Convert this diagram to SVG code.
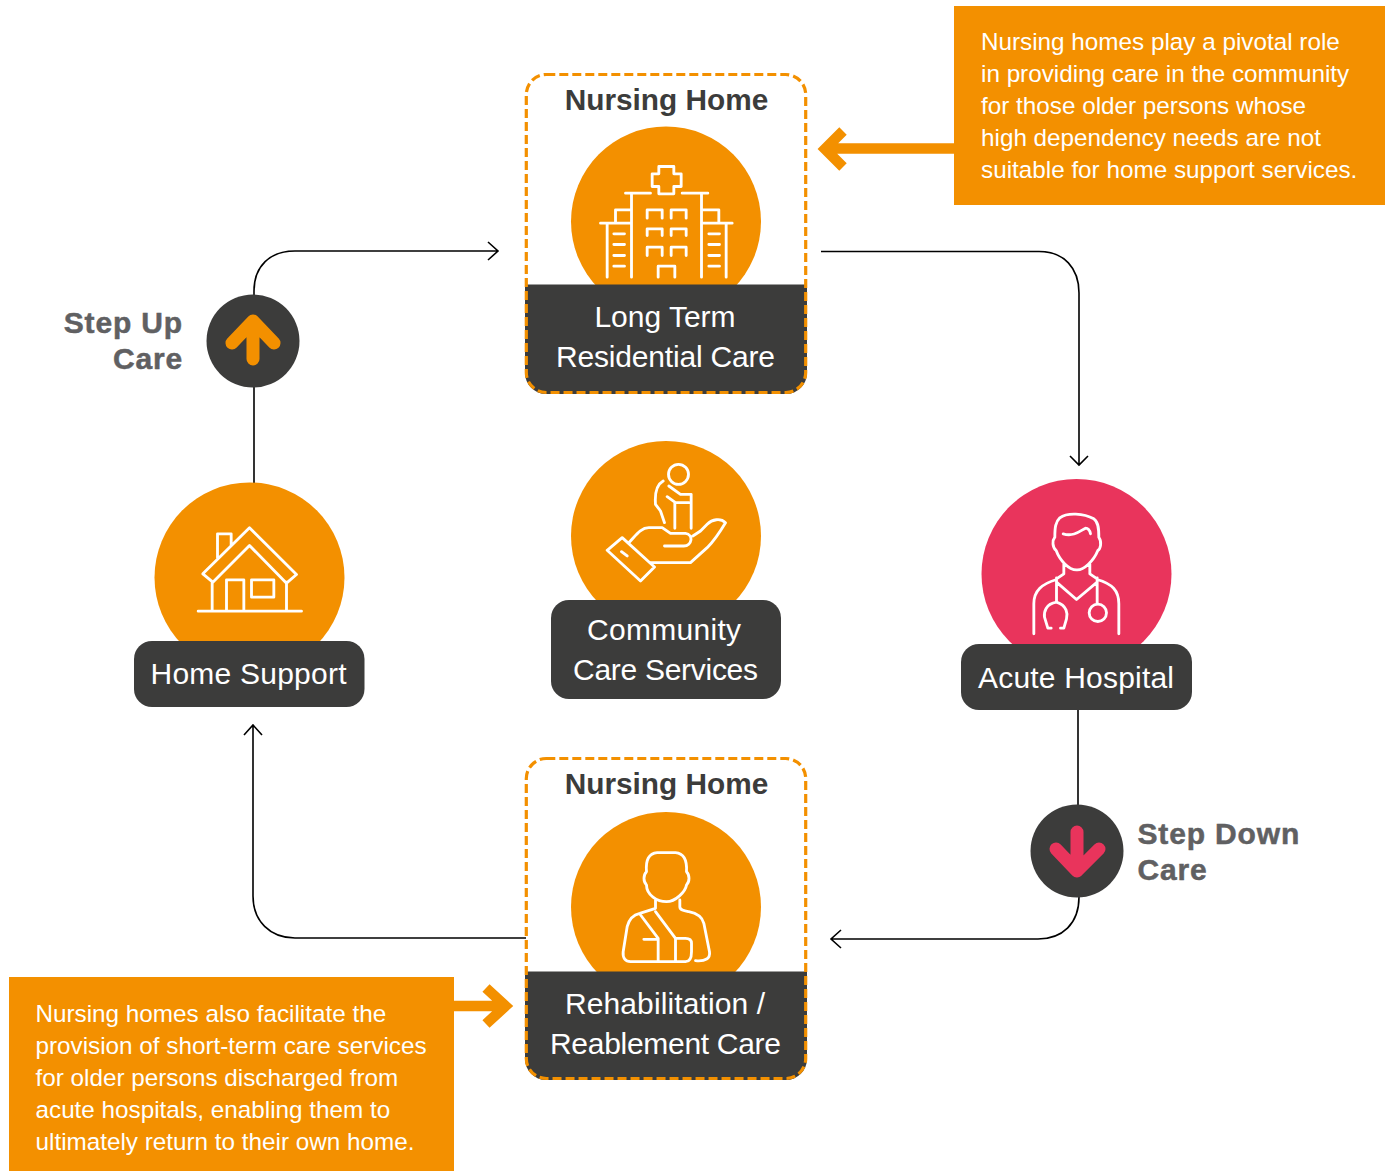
<svg xmlns="http://www.w3.org/2000/svg" width="1391" height="1171" viewBox="0 0 1391 1171">
<style>
text{font-family:"Liberation Sans",Arial,sans-serif}
.t{fill:#fff;font-size:30px;text-anchor:middle}
.h{fill:#3c3c3b;font-size:29.8px;font-weight:700;text-anchor:middle}
.c{fill:#fff;font-size:24.27px}
.s{fill:#606062;stroke:#606062;stroke-width:.5;font-size:30px;font-weight:700;letter-spacing:.85px}
.d{fill:#3c3c3b}
.o{fill:#f39000}
.p{fill:#e9345c}
.i{fill:none;stroke:#fff;stroke-width:8.5;stroke-linecap:round;stroke-linejoin:round}
.l{fill:none;stroke:#000;stroke-width:1.6}
.b{fill:none;stroke:#f39000;stroke-width:10.5}
.x{fill:none;stroke-width:13;stroke-linecap:round;stroke-linejoin:round}
.dash{fill:none;stroke:#f39000;stroke-width:3.2;stroke-dasharray:9 4;stroke-linecap:butt}
</style>
<g id="connectors">
<path class="l" d="M254 296V291C254 266 270 251 295 251H498M488 242L498 251L488 260"/>
<path class="l" d="M254 387V483"/>
<path class="l" d="M821 251.500H1039C1064 251.500 1079 268 1079 293V465M1070 456L1079 465L1088 456"/>
<path class="l" d="M1078 710V805"/>
<path class="l" d="M1079 897C1079 924 1062 939 1038 939H831M841 930L831 939L841 948"/>
<path class="l" d="M526 938H295C270 938 253 921 253 896V725M244 735L253 725L262 735"/>
<path class="b" d="M954 148.500H829M843 131L825 149L843 167"/>
<path class="b" d="M454 1006H503M486 988L505.500 1006L486 1024"/>
</g>
<g id="nursing-home-top">
<circle class="o" cx="666" cy="221.500" r="95"/>
<path class="d" d="M525 284.500H807V373A21 21 0 0 1 786 394H546A21 21 0 0 1 525 373Z"/>
<rect class="dash" x="526.300" y="74.500" width="279.400" height="318" rx="20"/>
<text class="h" x="666.500" y="110">Nursing Home</text>
<g transform="translate(520.500 60.500) scale(.33333)"><path class="i" d="M415 318H460V340H482V378H460V400H415V378H395V340H415ZM315 398H390M485 398H562M333 398V650M543 398V650M240 488H333M543 488H635M285 488V448H333M595 488V448H543M260 488V650M617 488V650M280 520H312M280 552H312M280 585H312M280 617H312M565 520H597M565 552H597M565 585H597M565 617H597M380 473V448H425V473M452 473V448H497V473M380 525V505H425V525M452 525V505H497V525M380 585V560H425V585M452 585V560H497V585M413 650V617H463V650"/></g>
<text class="t" x="665" y="327">Long Term</text>
<text class="t" x="665.500" y="367" textLength="219">Residential Care</text>
</g>
<g id="callout-top">
<rect class="o" x="954" y="6" width="431" height="199"/>
<text class="c" x="981" y="50">Nursing homes play a pivotal role</text>
<text class="c" x="981" y="82">in providing care in the community</text>
<text class="c" x="981" y="114">for those older persons whose</text>
<text class="c" x="981" y="146">high dependency needs are not</text>
<text class="c" x="981" y="178">suitable for home support services.</text>
</g>
<g id="step-up">
<circle class="d" cx="253" cy="341" r="46.500"/>
<path class="x" stroke="#f39000" d="M253 359V325M232 343L253 321L274 343"/>
<text class="s" x="183" y="333" text-anchor="end">Step Up</text>
<text class="s" x="183" y="369" text-anchor="end">Care</text>
</g>
<g id="home-support">
<circle class="o" cx="249.500" cy="577.500" r="95"/>
<rect class="d" x="134" y="641" width="230.500" height="66" rx="18"/>
<g transform="translate(140.500 480.500) scale(.33333)"><path class="i" d="M327 142L468 282L438 308L327 195L217 305L187 280ZM231 232V160H272V195M215 305V392M438 305V392M173 392H483M258 392V298H310V392M333 298H400V350H333Z"/></g>
<text class="t" x="248.500" y="684" textLength="196">Home Support</text>
</g>
<g id="community-care">
<circle class="o" cx="666" cy="536" r="95"/>
<rect class="d" x="551" y="600" width="230" height="99" rx="18"/>
<g transform="translate(560.500 441) scale(.33333)"><circle class="i" cx="354" cy="100" r="30"/><path class="i" d="M308 120C290 130 282 150 285 190L300 210L312 245M325 135L360 160H392V262M320 167L345 185H385M343 185V262M140 328L185 290L282 378L240 420ZM183 332L200 345M205 305C225 285 240 260 265 260H305L330 277H375C400 280 395 315 370 315H312M270 365H390L440 320C460 300 480 270 495 245C480 230 455 235 440 250L420 270L397 285"/></g>
<text class="t" x="664" y="640" textLength="154">Community</text>
<text class="t" x="665.500" y="680" textLength="185">Care Services</text>
</g>
<g id="acute-hospital">
<circle class="p" cx="1076.500" cy="574" r="95"/>
<rect class="d" x="961" y="644" width="231" height="66" rx="18"/>
<g transform="translate(970.500 480.500) scale(.33333)"><circle class="i" cx="382" cy="397" r="26"/><path class="i" d="M268 112C290 95 340 98 370 115C385 125 385 150 385 170C395 185 390 205 382 210C370 240 340 270 318 268C295 268 268 240 257 210C245 200 245 180 253 170C253 140 255 125 268 112ZM278 160C310 170 330 150 345 143C352 143 358 150 360 160M280 250V280L258 295M358 250V280L380 295M258 297C215 310 190 330 190 370V460M380 297C425 310 445 330 445 370V460M258 305L318 357L380 305M258 292V365C225 370 220 395 222 410L232 443H242M258 365C290 375 292 400 288 415L280 443H270M380 292V370"/></g>
<text class="t" x="1076" y="688" textLength="196">Acute Hospital</text>
</g>
<g id="step-down">
<circle class="d" cx="1077" cy="851" r="46.500"/>
<path class="x" stroke="#e9345c" d="M1077 832V866M1056 849L1077 871L1099 849"/>
<text class="s" x="1137.500" y="844">Step Down</text>
<text class="s" x="1137.500" y="880">Care</text>
</g>
<g id="nursing-home-bottom">
<circle class="o" cx="666" cy="907" r="95"/>
<path class="d" d="M525 971.500H807V1059A21 21 0 0 1 786 1080H546A21 21 0 0 1 525 1059Z"/>
<rect class="dash" x="526.300" y="758.500" width="279.400" height="320" rx="20"/>
<text class="h" x="666.500" y="794">Nursing Home</text>
<g transform="translate(560.500 810) scale(.33333)"><path class="i" d="M290 128H345C370 130 380 150 378 185C388 195 388 215 378 225C375 245 345 275 318 275C290 275 258 255 258 225C248 215 248 195 258 185C255 150 265 130 290 128ZM285 270V295L238 310C215 315 205 330 200 350L188 425C186 445 195 455 210 455H375C390 455 393 440 393 425V400C393 388 385 385 375 385H345V455M358 270V290C358 300 370 302 385 305C410 310 425 320 430 340L447 425C450 445 435 455 405 452M238 312L293 385V455M285 305L345 385M250 388H293"/></g>
<text class="t" x="665" y="1014" textLength="200">Rehabilitation /</text>
<text class="t" x="665.500" y="1054" textLength="231">Reablement Care</text>
</g>
<g id="callout-bottom">
<rect class="o" x="9" y="977" width="445" height="194"/>
<text class="c" x="35.500" y="1022">Nursing homes also facilitate the</text>
<text class="c" x="35.500" y="1054">provision of short-term care services</text>
<text class="c" x="35.500" y="1086">for older persons discharged from</text>
<text class="c" x="35.500" y="1118">acute hospitals, enabling them to</text>
<text class="c" x="35.500" y="1150">ultimately return to their own home.</text>
</g>
</svg>
